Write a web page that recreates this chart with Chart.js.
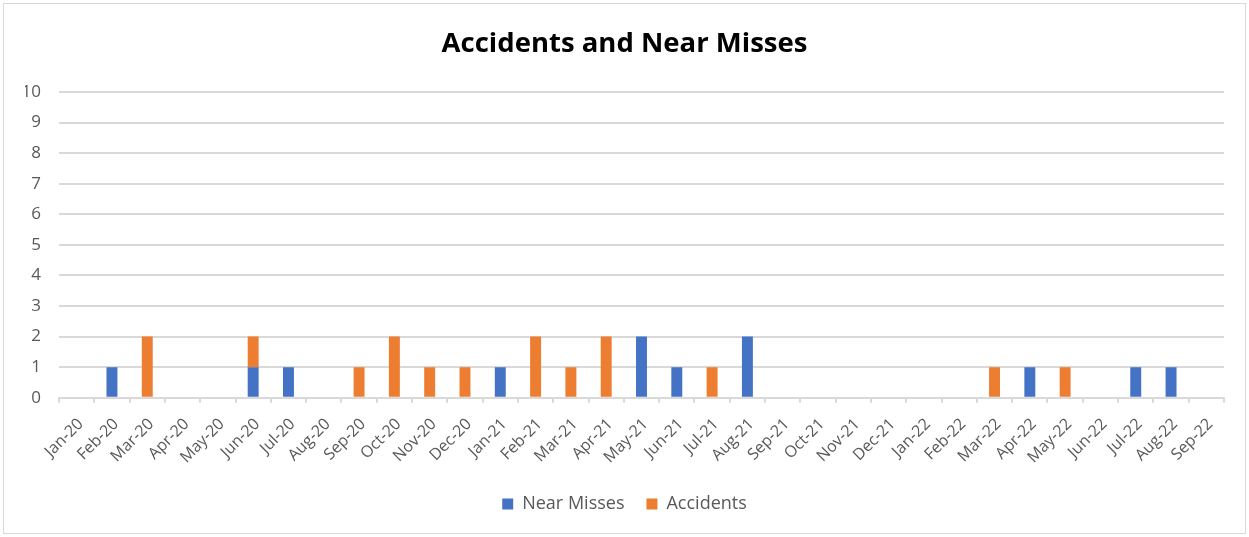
<!DOCTYPE html>
<html>
<head>
<meta charset="utf-8">
<script src="https://cdn.jsdelivr.net/npm/chart.js@4.4.1/dist/chart.umd.min.js"></script>
<style>
  html, body { margin: 0; padding: 0; background: #ffffff; }
  #wrap { position: absolute; left: 0; top: 0; width: 1249px; height: 537px; }
</style>
</head>
<body>
<div id="wrap"><canvas id="chart" width="1249" height="537"></canvas></div>
<script>
const months = [
  'Jan-20','Feb-20','Mar-20','Apr-20','May-20','Jun-20','Jul-20','Aug-20','Sep-20','Oct-20','Nov-20','Dec-20',
  'Jan-21','Feb-21','Mar-21','Apr-21','May-21','Jun-21','Jul-21','Aug-21','Sep-21','Oct-21','Nov-21','Dec-21',
  'Jan-22','Feb-22','Mar-22','Apr-22','May-22','Jun-22','Jul-22','Aug-22','Sep-22'
];
const nearMisses = [0,1,0,0,0,1,1,0,0,0,0,0, 1,0,0,0,2,1,0,2,0,0,0,0, 0,0,0,1,0,0,1,1,0];
const accidents  = [0,0,2,0,0,1,0,0,1,2,1,1, 0,2,1,2,0,0,1,0,0,0,0,0, 0,0,1,0,1,0,0,0,0];
const yTicks = [0,1,2,3,4,5,6,7,8,9,10];

const textGray = '#595959';
const gridGray = '#d9d9d9';
const fontFamily = "'Open Sans', Lato, 'Liberation Sans', sans-serif";

// light outline around the whole chart
const frame = {
  id: 'frame',
  beforeDraw(chart) {
    const ctx = chart.ctx;
    ctx.save();
    ctx.fillStyle = '#ffffff';
    ctx.fillRect(0, 0, chart.width, chart.height);
    ctx.strokeStyle = '#d9d9d9';
    ctx.lineWidth = 1;
    ctx.strokeRect(3.5, 3.5, chart.width - 7, chart.height - 7);
    ctx.restore();
  }
};

new Chart(document.getElementById('chart'), {
  type: 'bar',
  data: {
    labels: months,
    datasets: [
      { label: 'Near Misses', data: nearMisses, backgroundColor: '#4472C4', borderWidth: 0 },
      { label: 'Accidents', data: accidents, backgroundColor: '#ED7D31', borderWidth: 0 }
    ]
  },
  options: {
    responsive: false,
    animation: false,
    layout: { padding: { left: 25, right: 25, top: 0, bottom: 14 } },
    datasets: { bar: { categoryPercentage: 1.0, barPercentage: 0.31 } },
    scales: {
      x: {
        stacked: true,
        offset: true,
        afterFit(scale) { scale.height -= 6; },
        grid: { display: true, drawOnChartArea: false, offset: true, color: gridGray, lineWidth: 2, tickLength: 5 },
        border: { display: true, color: gridGray, width: 2 },
        ticks: { color: textGray, font: { family: fontFamily, size: 16 }, maxRotation: 45, minRotation: 45, autoSkip: false, padding: 12, labelOffset: 4 }
      },
      y: {
        stacked: true,
        min: 0,
        max: 10,
        afterBuildTicks(scale) { scale.ticks = yTicks.map(v => ({ value: v })); },
        afterFit(scale) { scale.width = 34; },
        grid: { color: gridGray, lineWidth: 2, drawTicks: false },
        border: { display: false },
        ticks: { color: textGray, font: { family: fontFamily, size: 17 }, padding: 18 }
      }
    },
    plugins: {
      title: {
        display: true,
        text: 'Accidents and Near Misses',
        color: '#000000',
        font: { family: fontFamily, size: 27.5, weight: 'bold' },
        padding: { top: 28, bottom: 31 }
      },
      legend: {
        position: 'bottom',
        labels: { color: textGray, font: { family: fontFamily, size: 18 }, boxWidth: 11, boxHeight: 11, padding: 22 }
      },
      tooltip: { enabled: false }
    }
  },
  plugins: [frame]
});
</script>
</body>
</html>
